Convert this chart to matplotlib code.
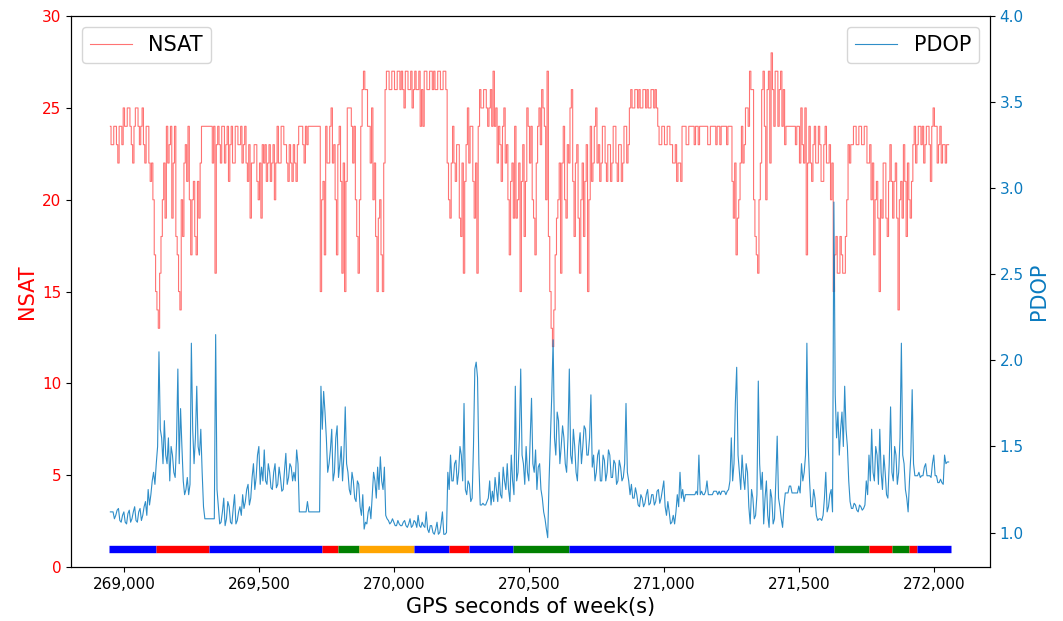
import numpy as np
import matplotlib.pyplot as plt
from matplotlib.ticker import FuncFormatter

# GPS time of first sample and window length (s)
t_start = 268950
t_step = 10

# number of satellites, first half of each 10 s window, one row = 100 s
nsat_a = [
    24, 23, 24, 22, 24, 25, 24, 25, 23, 24,   # 268950
    25, 23, 25, 22, 24, 21, 20, 15, 13, 18,   # 269050
    22, 24, 23, 19, 24, 17, 14, 18, 23, 24,   # 269150
    17, 21, 17, 19, 24, 24, 24, 24, 22, 16,   # 269250
    24, 22, 24, 23, 21, 24, 22, 24, 23, 22,   # 269350
    24, 21, 19, 22, 23, 20, 19, 22, 21, 23,   # 269450
    22, 20, 24, 22, 24, 23, 21, 22, 23, 21,   # 269550
    24, 24, 22, 23, 24, 24, 24, 24, 15, 21,   # 269650
    24, 22, 25, 23, 17, 24, 16, 15, 25, 25,   # 269750
    22, 20, 16, 24, 27, 26, 24, 25, 22, 15,   # 269850
    20, 15, 26, 27, 26, 27, 26, 27, 27, 25,   # 269950
    27, 26, 25, 27, 26, 24, 24, 27, 26, 27,   # 270050
    27, 26, 27, 26, 27, 22, 19, 24, 21, 23,   # 270150
    18, 16, 23, 22, 24, 19, 16, 26, 25, 26,   # 270250
    24, 26, 27, 25, 24, 21, 25, 23, 17, 22,   # 270350
    24, 20, 15, 23, 21, 24, 24, 19, 22, 25,   # 270450
    26, 24, 27, 15, 12, 17, 20, 16, 24, 19,   # 270550
    22, 26, 18, 23, 16, 22, 21, 15, 24, 22,   # 270650
    25, 23, 22, 24, 21, 23, 22, 24, 21, 23,   # 270750
    22, 24, 23, 26, 25, 26, 26, 25, 26, 26,   # 270850
    25, 26, 26, 24, 23, 24, 23, 24, 23, 22,   # 270950
    21, 22, 24, 24, 23, 24, 24, 24, 23, 24,   # 271050
    24, 24, 23, 24, 24, 24, 23, 24, 24, 24,   # 271150
    24, 19, 17, 20, 24, 23, 25, 27, 26, 18,   # 271250
    16, 22, 27, 20, 27, 28, 24, 27, 26, 24,   # 271350
    23, 24, 24, 24, 23, 24, 25, 22, 17, 24,   # 271450
    21, 24, 22, 23, 21, 24, 22, 20, 15, 18,   # 271550
    16, 17, 16, 20, 22, 23, 24, 23, 24, 23,   # 271650
    24, 22, 20, 17, 21, 15, 19, 22, 18, 23,   # 271750
    19, 22, 14, 21, 23, 18, 20, 21, 24, 23,   # 271850
    24, 24, 23, 24, 21, 25, 24, 23, 22, 23,   # 271950
    23,                                       # 272050
]
# second half of each window
nsat_b = [
    23, 24, 23, 24, 23, 24, 25, 24, 22, 25,   # 268950
    24, 24, 23, 24, 22, 22, 17, 14, 16, 20,   # 269050
    19, 22, 24, 22, 18, 15, 20, 22, 21, 20,   # 269150
    20, 18, 21, 22, 24, 24, 24, 24, 24, 23,   # 269250
    23, 24, 22, 24, 23, 22, 24, 23, 24, 23,   # 269350
    22, 23, 22, 23, 21, 22, 23, 23, 22, 21,   # 269450
    23, 22, 22, 24, 23, 22, 23, 21, 22, 23,   # 269550
    24, 23, 24, 24, 24, 24, 24, 24, 20, 17,   # 269650
    22, 24, 22, 20, 23, 21, 22, 21, 25, 24,   # 269750
    24, 18, 20, 26, 26, 24, 22, 20, 18, 19,   # 269850
    17, 22, 27, 26, 27, 26, 27, 26, 26, 27,   # 269950
    26, 27, 26, 26, 27, 26, 27, 26, 27, 26,   # 270050
    26, 27, 26, 27, 26, 20, 22, 22, 23, 19,   # 270150
    22, 21, 25, 24, 21, 22, 24, 25, 26, 25,   # 270250
    25, 24, 24, 22, 23, 24, 22, 20, 21, 19,   # 270350
    19, 22, 21, 18, 25, 22, 20, 17, 24, 23,   # 270450
    25, 20, 18, 13, 14, 19, 22, 22, 20, 23,   # 270550
    25, 21, 22, 19, 20, 18, 23, 20, 21, 24,   # 270650
    22, 21, 24, 22, 23, 21, 24, 22, 23, 21,   # 270750
    24, 22, 25, 25, 26, 25, 25, 26, 25, 25,   # 270850
    26, 25, 25, 23, 24, 23, 24, 23, 22, 23,   # 270950
    22, 21, 24, 23, 24, 24, 23, 24, 24, 24,   # 271050
    24, 23, 24, 24, 23, 24, 24, 24, 23, 24,   # 271150
    21, 22, 19, 22, 22, 25, 24, 26, 20, 17,   # 271250
    20, 26, 24, 26, 22, 26, 27, 24, 27, 26,   # 271350
    24, 24, 24, 24, 24, 22, 23, 25, 22, 22,   # 271450
    23, 22, 24, 21, 23, 22, 23, 22, 17, 16,   # 271550
    18, 16, 18, 23, 23, 24, 23, 24, 23, 24,   # 271650
    22, 23, 22, 20, 19, 20, 22, 19, 21, 21,   # 271750
    21, 19, 20, 19, 21, 22, 19, 23, 22, 24,   # 271850
    23, 22, 24, 23, 24, 24, 22, 24, 23, 22,   # 271950
    23,                                       # 272050
]

# PDOP, first half of each window
pdop_a = [
    1.12, 1.12, 1.10, 1.14, 1.06, 1.12, 1.05, 1.13, 1.08, 1.15,   # 268950
    1.06, 1.14, 1.10, 1.18, 1.25, 1.22, 1.35, 1.40, 2.05, 1.55,   # 269050
    1.65, 1.40, 1.30, 1.45, 1.32, 1.95, 1.72, 1.30, 1.25, 1.22,   # 269150
    2.10, 1.40, 1.85, 1.45, 1.35, 1.08, 1.08, 1.08, 1.08, 2.15,   # 269250
    1.15, 1.06, 1.20, 1.08, 1.15, 1.05, 1.22, 1.07, 1.15, 1.22,   # 269350
    1.18, 1.28, 1.20, 1.40, 1.32, 1.50, 1.38, 1.48, 1.28, 1.35,   # 269450
    1.25, 1.40, 1.28, 1.32, 1.25, 1.46, 1.32, 1.38, 1.35, 1.48,   # 269550
    1.12, 1.12, 1.12, 1.18, 1.12, 1.12, 1.12, 1.12, 1.85, 1.82,   # 269650
    1.55, 1.40, 1.60, 1.35, 1.62, 1.40, 1.30, 1.73, 1.35, 1.22,   # 269750
    1.30, 1.18, 1.28, 1.10, 1.02, 1.05, 1.15, 1.22, 1.30, 1.38,   # 269850
    1.44, 1.25, 1.10, 1.07, 1.06, 1.06, 1.04, 1.05, 1.04, 1.07,   # 269950
    1.03, 1.08, 1.04, 1.06, 1.10, 1.03, 1.04, 1.12, 1.00, 1.04,   # 270050
    0.99, 1.06, 1.00, 1.12, 0.99, 1.35, 1.45, 1.30, 1.42, 1.35,   # 270150
    1.45, 1.75, 1.22, 1.28, 1.20, 1.95, 1.90, 1.16, 1.17, 1.16,   # 270250
    1.20, 1.16, 1.18, 1.25, 1.35, 1.20, 1.30, 1.40, 1.18, 1.30,   # 270350
    1.85, 1.35, 1.95, 1.40, 1.50, 1.30, 1.78, 1.35, 1.25, 1.40,   # 270450
    1.20, 1.08, 0.97, 1.55, 2.12, 1.45, 1.65, 1.50, 1.55, 1.35,   # 270550
    1.95, 1.40, 1.50, 1.30, 1.58, 1.50, 1.60, 1.45, 1.80, 1.45,   # 270650
    1.35, 1.48, 1.30, 1.42, 1.35, 1.45, 1.32, 1.40, 1.30, 1.38,   # 270750
    1.32, 1.75, 1.30, 1.28, 1.20, 1.22, 1.15, 1.20, 1.17, 1.25,   # 270850
    1.17, 1.22, 1.18, 1.25, 1.20, 1.30, 1.10, 1.12, 1.06, 1.05,   # 270950
    1.22, 1.35, 1.25, 1.22, 1.22, 1.22, 1.22, 1.24, 1.45, 1.24,   # 271050
    1.22, 1.30, 1.22, 1.22, 1.24, 1.22, 1.22, 1.24, 1.22, 1.25,   # 271150
    1.55, 1.40, 1.96, 1.35, 1.45, 1.25, 1.35, 1.05, 1.20, 1.10,   # 271250
    1.88, 1.25, 1.05, 1.30, 1.03, 1.20, 1.08, 1.56, 1.15, 1.03,   # 271350
    1.23, 1.23, 1.27, 1.23, 1.23, 1.27, 1.40, 1.35, 2.10, 1.30,   # 271450
    1.15, 1.20, 1.07, 1.08, 1.10, 1.35, 1.15, 1.25, 2.92, 1.55,   # 271550
    1.45, 1.70, 1.85, 1.50, 1.18, 1.14, 1.16, 1.12, 1.15, 1.14,   # 271650
    1.30, 1.45, 1.60, 1.30, 1.45, 1.60, 1.25, 1.35, 1.20, 1.73,   # 271750
    1.30, 1.45, 1.35, 2.10, 1.40, 1.20, 1.30, 1.83, 1.33, 1.33,   # 271850
    1.32, 1.33, 1.40, 1.33, 1.32, 1.45, 1.33, 1.29, 1.29, 1.45,   # 271950
    1.41,                                                         # 272050
]
# second half of each window
pdop_b = [
    1.12, 1.08, 1.13, 1.07, 1.10, 1.06, 1.11, 1.06, 1.12, 1.07,   # 268950
    1.12, 1.07, 1.15, 1.10, 1.16, 1.30, 1.28, 1.50, 1.60, 1.40,   # 269050
    1.45, 1.55, 1.50, 1.35, 1.52, 1.40, 1.50, 1.22, 1.32, 1.28,   # 269150
    1.60, 1.55, 1.50, 1.60, 1.15, 1.08, 1.08, 1.08, 1.08, 1.25,   # 269250
    1.05, 1.12, 1.04, 1.18, 1.06, 1.14, 1.05, 1.12, 1.10, 1.14,   # 269350
    1.25, 1.16, 1.32, 1.25, 1.45, 1.28, 1.30, 1.30, 1.40, 1.26,   # 269450
    1.35, 1.26, 1.38, 1.24, 1.36, 1.28, 1.40, 1.30, 1.30, 1.40,   # 269550
    1.12, 1.12, 1.12, 1.12, 1.12, 1.12, 1.12, 1.12, 1.60, 1.70,   # 269650
    1.35, 1.48, 1.30, 1.55, 1.32, 1.50, 1.45, 1.40, 1.25, 1.35,   # 269750
    1.20, 1.30, 1.15, 1.22, 1.06, 1.12, 1.08, 1.35, 1.20, 1.25,   # 269850
    1.30, 1.38, 1.08, 1.05, 1.08, 1.04, 1.07, 1.04, 1.06, 1.04,   # 269950
    1.05, 1.03, 1.07, 1.03, 1.04, 1.06, 1.03, 1.02, 1.04, 1.00,   # 270050
    1.02, 0.99, 1.05, 0.99, 1.00, 1.25, 1.30, 1.40, 1.28, 1.50,   # 270150
    1.30, 1.25, 1.30, 1.18, 1.50, 1.99, 1.40, 1.16, 1.16, 1.18,   # 270250
    1.30, 1.24, 1.32, 1.18, 1.22, 1.38, 1.25, 1.25, 1.45, 1.22,   # 270350
    1.30, 1.55, 1.45, 1.28, 1.35, 1.55, 1.40, 1.48, 1.38, 1.25,   # 270450
    1.12, 1.02, 1.30, 1.80, 1.55, 1.70, 1.40, 1.62, 1.40, 1.55,   # 270550
    1.45, 1.60, 1.35, 1.50, 1.40, 1.62, 1.45, 1.55, 1.38, 1.30,   # 270650
    1.45, 1.30, 1.45, 1.30, 1.48, 1.32, 1.42, 1.28, 1.42, 1.30,   # 270750
    1.40, 1.35, 1.22, 1.20, 1.26, 1.16, 1.22, 1.15, 1.22, 1.16,   # 270850
    1.22, 1.16, 1.24, 1.17, 1.25, 1.15, 1.18, 1.05, 1.10, 1.12,   # 270950
    1.15, 1.20, 1.18, 1.22, 1.22, 1.22, 1.22, 1.22, 1.22, 1.22,   # 271050
    1.24, 1.22, 1.22, 1.24, 1.24, 1.24, 1.24, 1.24, 1.24, 1.30,   # 271150
    1.30, 1.75, 1.45, 1.25, 1.32, 1.40, 1.15, 1.25, 1.08, 1.22,   # 271250
    1.40, 1.35, 1.20, 1.10, 1.25, 1.05, 1.30, 1.20, 1.08, 1.15,   # 271350
    1.23, 1.27, 1.23, 1.23, 1.23, 1.23, 1.30, 1.45, 1.50, 1.15,   # 271450
    1.25, 1.10, 1.08, 1.07, 1.20, 1.12, 1.22, 1.12, 1.80, 1.70,   # 271550
    1.60, 1.50, 1.60, 1.30, 1.14, 1.17, 1.13, 1.16, 1.13, 1.16,   # 271650
    1.22, 1.30, 1.35, 1.50, 1.28, 1.35, 1.45, 1.22, 1.40, 1.35,   # 271750
    1.50, 1.28, 1.55, 1.45, 1.25, 1.12, 1.45, 1.40, 1.33, 1.35,   # 271850
    1.33, 1.38, 1.33, 1.33, 1.40, 1.33, 1.29, 1.31, 1.28, 1.40,   # 271950
    1.41,                                                         # 272050
]

# environment bar at the bottom: segment edges (GPS s) and colours
seg_edges = [268946, 269118, 269317, 269733, 269792, 269872, 270074, 270204,
             270279, 270440, 270647, 271631, 271760, 271846, 271909, 271937, 272064]
seg_colors = ['blue', 'red', 'blue', 'red', 'green', 'orange', 'blue', 'red',
              'blue', 'green', 'blue', 'green', 'red', 'green', 'red', 'blue']

# interleave both halves of each window into one 5 s series
t_win = t_start + t_step * np.arange(len(nsat_a))
t = np.column_stack([t_win, t_win + t_step / 2]).ravel()
nsat = np.column_stack([nsat_a, nsat_b]).ravel()
pdop = np.column_stack([pdop_a, pdop_b]).ravel()

pdop_color = '#0a7abf'

fig, ax1 = plt.subplots(figsize=(10.63, 6.21), dpi=100)
fig.subplots_adjust(left=0.067, right=0.931, top=0.974, bottom=0.087)

ax1.plot(t, nsat, color='red', alpha=0.55, lw=0.8, drawstyle='steps-mid', label='NSAT')
for i, c in enumerate(seg_colors):
    ax1.plot([seg_edges[i], seg_edges[i + 1]], [1, 1], color=c, lw=5.3, solid_capstyle='butt')

ax1.set_ylim(0, 30)
ax1.set_xlim(268805, 272207)
ax1.set_ylabel('NSAT', color='red', fontsize=15)
ax1.set_xlabel('GPS seconds of week(s)', fontsize=15)
ax1.tick_params(axis='y', labelcolor='red', labelsize=11)
ax1.tick_params(axis='x', labelsize=11)
ax1.xaxis.set_major_formatter(FuncFormatter(lambda v, p: f'{v:,.0f}'))
ax1.legend(loc='upper left', fontsize=15)

ax2 = ax1.twinx()
ax2.plot(t, pdop, color=pdop_color, alpha=0.85, lw=0.8, label='PDOP')
ax2.set_ylim(0.8, 4.0)
ax2.set_ylabel('PDOP', color=pdop_color, fontsize=15)
ax2.tick_params(axis='y', labelcolor=pdop_color, labelsize=11)
ax2.legend(loc='upper right', fontsize=15)

fig.savefig('out.png', dpi=100)
